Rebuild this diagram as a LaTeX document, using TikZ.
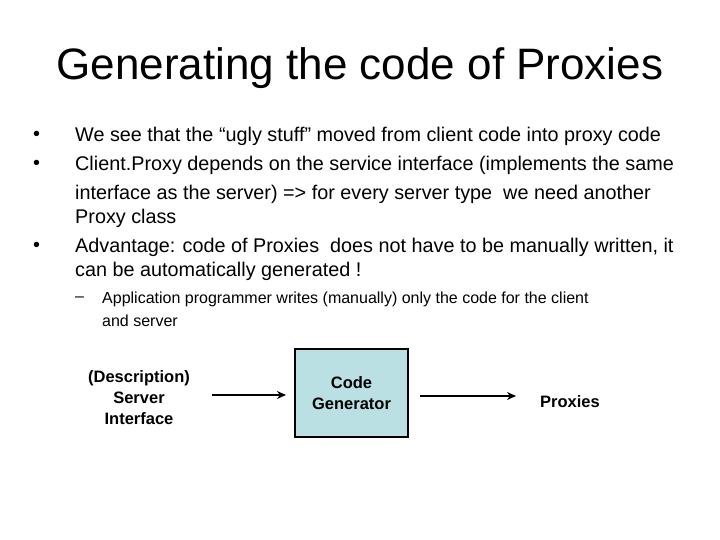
\documentclass[tikz,border=0pt]{standalone}
\usepackage{fontspec}
\usetikzlibrary{arrows.meta}
\setmainfont{Liberation Sans}
\begin{document}
\begin{tikzpicture}[x=1pt,y=-1pt,
 ln/.style={anchor=west,inner sep=0pt,font=\fontsize{19.8}{22}\selectfont},
 sl/.style={anchor=west,inner sep=0pt,font=\fontsize{16}{18}\selectfont},
 bl/.style={align=center,font=\fontsize{16.5}{21}\selectfont\bfseries},
 arr/.style={line width=2pt,-{Stealth[length=9pt,width=8pt]}}]
\useasboundingbox (0,0) rectangle (720,540);
\node (title) at (360,68) {\fontsize{44}{46}\selectfont Generating the code of Proxies};
\node[ln] (b1) at (33,136) {\textbullet};
\node[ln] (l1) at (75,136) {We see that the “ugly stuff” moved from client code into proxy code};
\node[ln] (b2) at (33,165) {\textbullet};
\node[ln] (l2) at (75,165) {Client.Proxy depends on the service interface (implements the same};
\node[ln] (l3) at (75,194) {interface as the server) => for every server type\ \ we need another};
\node[ln] (l4) at (75,218) {Proxy class};
\node[ln] (b3) at (33,247) {\textbullet};
\node[ln] (l5) at (75,247) {Advantage: code of Proxies\ \ does not have to be manually written, it};
\node[ln] (l6) at (75,271) {can be automatically generated !};
\node[sl] (d1) at (75,299) {–};
\node[sl] (s1) at (102,299) {Application programmer writes (manually) only the code for the client};
\node[sl] (s2) at (102,321) {and server};
\node[bl] (desc) at (139,398) {(Description)\\Server\\Interface};
\node[bl,draw,line width=2pt,fill={rgb,255:red,186;green,224;blue,228},minimum width=113pt,minimum height=88pt] (gen) at (351.5,393) {Code\\Generator};
\node[bl] (prox) at (570,402) {Proxies};
\coordinate (a1s) at (212,395);
\coordinate (a1e) at (286,395);
\draw[arr] (a1s) -- (a1e);
\coordinate (a2s) at (420,396);
\coordinate (a2e) at (516,396);
\draw[arr] (a2s) -- (a2e);
\end{tikzpicture}
\end{document}
